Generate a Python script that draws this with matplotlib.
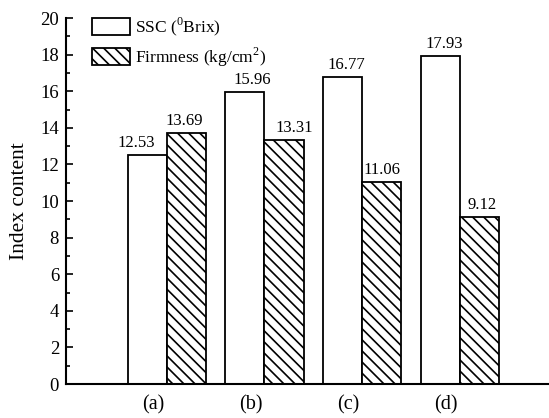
import matplotlib
matplotlib.use("Agg")
import matplotlib.pyplot as plt
import numpy as np

categories = ["(a)", "(b)", "(c)", "(d)"]
ssc = [12.53, 15.96, 16.77, 17.93]
firmness = [13.69, 13.31, 11.06, 9.12]

# horizontal nudges (pixels) for the value annotations
ssc_label_dx = [-11, 7, 4, 4]
firm_label_dx = [-2, 10, 0, 2]

plt.rcParams["font.family"] = ["Liberation Serif", "DejaVu Serif"]
plt.rcParams["mathtext.fontset"] = "custom"
plt.rcParams["mathtext.rm"] = "Liberation Serif"
plt.rcParams["hatch.linewidth"] = 1.2

fig = plt.figure(figsize=(5.49, 4.18), dpi=100)
ax = fig.add_axes([0.1202, 0.0813, 0.8798, 0.8756])

x = np.arange(len(categories))
w = 0.40
b1 = ax.bar(x - w / 2, ssc, w, facecolor="white", edgecolor="black",
            linewidth=1.3, label="SSC ($^{0}$Brix)")
b2 = ax.bar(x + w / 2, firmness, w, facecolor="white", edgecolor="black",
            linewidth=1.3, hatch="\\\\\\", label="Firmness (kg/cm$^{2}$)")

for bars, vals, dxs in ((b1, ssc, ssc_label_dx), (b2, firmness, firm_label_dx)):
    for r, v, dx in zip(bars, vals, dxs):
        ax.annotate(f"{v:.2f}", (r.get_x() + r.get_width() / 2, v),
                    xytext=(dx, 4), textcoords="offset pixels",
                    ha="center", va="bottom", fontsize=12)

ax.set_xlim(-1.03, 3.91)
ax.set_ylim(0, 20)
ax.set_xticks(x - 0.14)
ax.set_xticklabels(categories, fontsize=14.5)
ax.set_yticks(np.arange(0, 21, 2))
ax.set_yticks(np.arange(1, 20, 2), minor=True)
ax.tick_params(axis="y", which="major", direction="in", length=5, width=1.2,
               labelsize=13.5, pad=5)
ax.tick_params(axis="y", which="minor", direction="in", length=3, width=1.2)
ax.tick_params(axis="x", length=0, pad=8)
ax.set_ylabel("Index content", fontsize=15.5, labelpad=8)

for s in ("top", "right"):
    ax.spines[s].set_visible(False)
for s in ("left", "bottom"):
    ax.spines[s].set_linewidth(1.5)

ax.legend(loc="upper left", bbox_to_anchor=(0.053, 1.006), frameon=False,
          fontsize=12.5, handlelength=2.2, handleheight=1.12, borderpad=0,
          borderaxespad=0, handletextpad=0.3, labelspacing=0.4)

fig.savefig("out.png", dpi=100)
